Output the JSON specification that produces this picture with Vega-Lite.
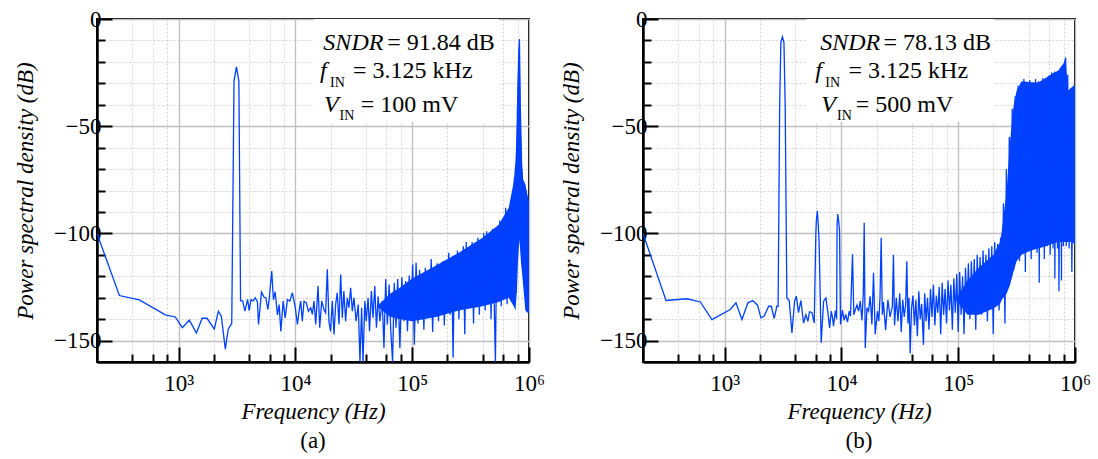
{
"$schema": "https://vega.github.io/schema/vega-lite/v6.json",
"background": "white",
"padding": {"left": 13, "top": 7, "right": 5, "bottom": 5},
"spacing": 114,
"bounds": "flush",
"config": {
 "view": {"stroke": "black", "strokeWidth": 2},
 "font": "Liberation Serif",
 "axis": {"labelFont": "Liberation Serif", "labelFontSize": 23, "labelColor": "black", "titleFont": "Liberation Serif", "titleFontSize": 23, "titleFontStyle": "italic", "titleFontWeight": "normal", "titleColor": "black", "domainColor": "black", "domainWidth": 2.5, "tickColor": "black", "tickWidth": 2, "labelFlush": false, "labelOverlap": false, "grid": true},
 "axisX": {"labelPadding": 25, "titlePadding": -2},
 "axisY": {"labelPadding": 11, "titlePadding": 16},
 "title": {"font": "Liberation Serif", "fontSize": 23, "fontWeight": "normal", "color": "black"}
},
"datasets": {
 "la": [{"f":200,"v":-100},{"f":311,"v":-129},{"f":461,"v":-131},{"f":770,"v":-138},{"f":936,"v":-139},{"f":1075,"v":-144},{"f":1234,"v":-140.5},{"f":1420,"v":-146.5},{"f":1590,"v":-139.6},{"f":1750,"v":-139.6},{"f":2020,"v":-144.7},{"f":2190,"v":-136.3},{"f":2320,"v":-138.6},{"f":2510,"v":-154},{"f":2660,"v":-144.7},{"f":2850,"v":-142},{"f":2980,"v":-29},{"f":3125,"v":-22.3},{"f":3280,"v":-29},{"f":3390,"v":-131.5},{"f":3530,"v":-131.5},{"f":3697,"v":-136.3},{"f":3895,"v":-130.8},{"f":4020,"v":-136},{"f":4160,"v":-131},{"f":4345,"v":-131.5},{"f":4530,"v":-130},{"f":4730,"v":-132},{"f":4830,"v":-142.5},{"f":5120,"v":-127.4},{"f":5400,"v":-129.8},{"f":5580,"v":-130},{"f":5810,"v":-135.5},{"f":5950,"v":-131},{"f":6270,"v":-117.6},{"f":6480,"v":-131},{"f":6700,"v":-127.3},{"f":7020,"v":-138},{"f":7260,"v":-133.2},{"f":7500,"v":-145.7},{"f":7850,"v":-131.6},{"f":8170,"v":-139.4},{"f":8540,"v":-130.9},{"f":8960,"v":-131.6},{"f":9420,"v":-127.7},{"f":9980,"v":-134.7},{"f":10400,"v":-142.5},{"f":10740,"v":-136.3},{"f":11100,"v":-131.6},{"f":11450,"v":-141},{"f":11850,"v":-131.6},{"f":12400,"v":-132.4},{"f":12920,"v":-136.3},{"f":13540,"v":-134.7},{"f":13960,"v":-137.8},{"f":14430,"v":-131.6},{"f":14920,"v":-142.5},{"f":15620,"v":-124.6},{"f":16140,"v":-144},{"f":16790,"v":-131.6},{"f":17550,"v":-135.5},{"f":18140,"v":-137},{"f":18750,"v":-116.8},{"f":19360,"v":-141},{"f":20000,"v":-145.7},{"f":20700,"v":-131.6},{"f":21400,"v":-147.2},{"f":22100,"v":-133.2},{"f":22800,"v":-127.7},{"f":23600,"v":-142.5},{"f":24400,"v":-119.2},{"f":25200,"v":-139.4},{"f":26000,"v":-126.9},{"f":26900,"v":-141},{"f":27800,"v":-130.1},{"f":28700,"v":-134.7},{"f":29700,"v":-125.4},{"f":30700,"v":-136.3},{"f":31700,"v":-130},{"f":33100,"v":-141},{"f":34500,"v":-133.2},{"f":35700,"v":-159.7},{"f":36900,"v":-134.7},{"f":37900,"v":-160},{"f":39300,"v":-131.6},{"f":40400,"v":-141},{"f":41900,"v":-130},{"f":43100,"v":-145.7},{"f":44700,"v":-126.9},{"f":46200,"v":-139.4},{"f":47800,"v":-124.6},{"f":49400,"v":-144},{"f":51100,"v":-129.3},{"f":52800,"v":-141},{"f":55400,"v":-131.6},{"f":57300,"v":-153.5},{"f":59300,"v":-121.3},{"f":61300,"v":-142.5},{"f":63400,"v":-123.9},{"f":65600,"v":-145.7},{"f":67900,"v":-160},{"f":70200,"v":-123},{"f":72600,"v":-144},{"f":75100,"v":-121.3},{"f":78400,"v":-153.5},{"f":81500,"v":-120.5},{"f":85100,"v":-141},{"f":88000,"v":-122.2},{"f":91100,"v":-145.7},{"f":94300,"v":-119.7},{"f":97500,"v":-139.4},{"f":100900,"v":-114.5},{"f":104300,"v":-152},{"f":107900,"v":-113.7},{"f":112200,"v":-142},{"f":115500,"v":-117},{"f":118900,"v":-138},{"f":122300,"v":-121},{"f":125900,"v":-145},{"f":129600,"v":-116},{"f":133400,"v":-139},{"f":137200,"v":-119},{"f":141300,"v":-136},{"f":145400,"v":-112},{"f":149600,"v":-146},{"f":154000,"v":-118},{"f":158500,"v":-137},{"f":163100,"v":-114},{"f":167900,"v":-141},{"f":172800,"v":-116},{"f":177800,"v":-133},{"f":183000,"v":-113},{"f":188400,"v":-143},{"f":193900,"v":-115},{"f":199500,"v":-135},{"f":205400,"v":-109},{"f":211300,"v":-138},{"f":217500,"v":-112},{"f":223900,"v":-158},{"f":230400,"v":-111},{"f":237100,"v":-134},{"f":244100,"v":-108},{"f":251200,"v":-140},{"f":258500,"v":-110},{"f":266100,"v":-132},{"f":273800,"v":-106},{"f":281800,"v":-147},{"f":290100,"v":-104},{"f":298500,"v":-135},{"f":307300,"v":-108},{"f":316200,"v":-131},{"f":325500,"v":-104},{"f":335000,"v":-142},{"f":344700,"v":-106},{"f":354800,"v":-130},{"f":365200,"v":-102},{"f":375800,"v":-138},{"f":386800,"v":-104},{"f":398100,"v":-129},{"f":409700,"v":-100},{"f":421700,"v":-136},{"f":434000,"v":-99},{"f":446700,"v":-131},{"f":459700,"v":-102},{"f":473200,"v":-140},{"f":487000,"v":-98},{"f":501200,"v":-127},{"f":515800,"v":-160},{"f":530900,"v":-97},{"f":546400,"v":-131},{"f":562300,"v":-94},{"f":578800,"v":-134},{"f":595700,"v":-95},{"f":613100,"v":-126},{"f":631000,"v":-88},{"f":649400,"v":-133},{"f":668300,"v":-90},{"f":687900,"v":-124},{"f":707900,"v":-85},{"f":728600,"v":-130},{"f":749900,"v":-74},{"f":771800,"v":-128},{"f":794300,"v":-45},{"f":817500,"v":-15},{"f":828000,"v":-9.3},{"f":841400,"v":-40},{"f":866000,"v":-70},{"f":891300,"v":-78},{"f":917300,"v":-120},{"f":944100,"v":-80},{"f":971600,"v":-135},{"f":1000000,"v":-136}],
 "ba": [{"f":50000,"v":-134,"v2":-134},{"f":65000,"v":-128,"v2":-139},{"f":80000,"v":-125,"v2":-140},{"f":100000,"v":-121,"v2":-141},{"f":160000,"v":-115,"v2":-139},{"f":250000,"v":-109,"v2":-136},{"f":400000,"v":-102,"v2":-134},{"f":550000,"v":-96,"v2":-132},{"f":670000,"v":-88,"v2":-130},{"f":740000,"v":-76,"v2":-134},{"f":766000,"v":-66,"v2":-136},{"f":790000,"v":-47.5,"v2":-126},{"f":805000,"v":-24,"v2":-113},{"f":828000,"v":-9.3,"v2":-103},{"f":843000,"v":-35,"v2":-109},{"f":855000,"v":-55,"v2":-114},{"f":871000,"v":-67.7,"v2":-118},{"f":890000,"v":-75,"v2":-124},{"f":931000,"v":-77,"v2":-136},{"f":970000,"v":-82,"v2":-137},{"f":1000000,"v":-85,"v2":-137}],
 "xa": [{"f":14450,"f2":550000,"v":0,"v2":-48}],
 "ta": [{"f":17350,"v":-14.49,"t":"SNDR","k":"sym"},{"f":61150,"v":-14.49,"t":"= 91.84 dB","k":"val"},{"f":16260,"v":-27.57,"t":"f","k":"sym"},{"f":19800,"v":-31.64,"t":"IN","k":"sub"},{"f":31130,"v":-27.57,"t":"= 3.125 kHz","k":"val"},{"f":17600,"v":-43.32,"t":"V","k":"sym"},{"f":23900,"v":-47.2,"t":"IN","k":"sub"},{"f":36220,"v":-43.32,"t":"= 100 mV","k":"val"}],
 "lb": [{"f":200,"v":-100},{"f":315,"v":-131.3},{"f":476,"v":-130.5},{"f":620,"v":-132},{"f":778,"v":-140.2},{"f":1118,"v":-135.5},{"f":1250,"v":-132.4},{"f":1407,"v":-140.2},{"f":1583,"v":-132.4},{"f":1735,"v":-131.3},{"f":1915,"v":-133.5},{"f":2043,"v":-139.4},{"f":2185,"v":-138.6},{"f":2380,"v":-134},{"f":2510,"v":-134},{"f":2660,"v":-139.7},{"f":2800,"v":-134},{"f":2870,"v":-134},{"f":2960,"v":-40},{"f":3030,"v":-11},{"f":3125,"v":-8.3},{"f":3220,"v":-11},{"f":3300,"v":-40},{"f":3410,"v":-130.1},{"f":3570,"v":-131.3},{"f":3770,"v":-146.4},{"f":3970,"v":-131.6},{"f":4110,"v":-129.3},{"f":4290,"v":-137},{"f":4500,"v":-131.3},{"f":4740,"v":-141.8},{"f":4960,"v":-138},{"f":5160,"v":-141},{"f":5330,"v":-136.6},{"f":5590,"v":-136.9},{"f":5850,"v":-141.8},{"f":6040,"v":-100},{"f":6100,"v":-94},{"f":6220,"v":-89.5},{"f":6330,"v":-96},{"f":6440,"v":-104},{"f":6710,"v":-151},{"f":7040,"v":-131.6},{"f":7370,"v":-130.1},{"f":7660,"v":-137},{"f":7920,"v":-144.1},{"f":8190,"v":-136.3},{"f":8400,"v":-139.4},{"f":8560,"v":-143.3},{"f":8870,"v":-136},{"f":9100,"v":-140},{"f":9180,"v":-96},{"f":9310,"v":-91},{"f":9460,"v":-94},{"f":9640,"v":-99},{"f":9820,"v":-142.5},{"f":10200,"v":-135.8},{"f":10540,"v":-140.6},{"f":10880,"v":-137.8},{"f":11270,"v":-141.4},{"f":11660,"v":-136.3},{"f":11960,"v":-138.6},{"f":12440,"v":-109.8},{"f":12770,"v":-138},{"f":13130,"v":-135.8},{"f":13580,"v":-133.4},{"f":14030,"v":-136.3},{"f":14500,"v":-131.6},{"f":14990,"v":-140.6},{"f":15400,"v":-128},{"f":15670,"v":-95},{"f":16000,"v":-153.5},{"f":16540,"v":-134.7},{"f":17070,"v":-136.3},{"f":17640,"v":-129.3},{"f":18230,"v":-142.5},{"f":18830,"v":-118.4},{"f":19460,"v":-147},{"f":20350,"v":-136.3},{"f":20900,"v":-141},{"f":21400,"v":-130},{"f":21900,"v":-102},{"f":22400,"v":-138},{"f":22900,"v":-132},{"f":23900,"v":-145},{"f":25000,"v":-131},{"f":26100,"v":-139},{"f":27300,"v":-134},{"f":27900,"v":-110},{"f":28500,"v":-143},{"f":29500,"v":-130},{"f":30500,"v":-141},{"f":31600,"v":-128},{"f":32500,"v":-146},{"f":33500,"v":-131},{"f":34500,"v":-139},{"f":35500,"v":-133},{"f":36300,"v":-113},{"f":37100,"v":-142},{"f":37900,"v":-130},{"f":38800,"v":-156},{"f":39800,"v":-135},{"f":41000,"v":-129},{"f":42200,"v":-143},{"f":43400,"v":-131},{"f":44700,"v":-148},{"f":46000,"v":-127},{"f":47300,"v":-140},{"f":48700,"v":-133},{"f":50400,"v":-152},{"f":51600,"v":-128},{"f":53100,"v":-141},{"f":54600,"v":-130},{"f":56200,"v":-145},{"f":57900,"v":-126},{"f":59600,"v":-139},{"f":61300,"v":-124},{"f":63100,"v":-143},{"f":64900,"v":-129},{"f":66800,"v":-137},{"f":68800,"v":-125},{"f":70800,"v":-147},{"f":72900,"v":-123},{"f":75000,"v":-138},{"f":77200,"v":-126},{"f":79400,"v":-142},{"f":81800,"v":-122},{"f":84100,"v":-136},{"f":86600,"v":-124},{"f":89100,"v":-145},{"f":91700,"v":-121},{"f":94400,"v":-137},{"f":97200,"v":-119},{"f":100000,"v":-146},{"f":102900,"v":-118},{"f":105900,"v":-138},{"f":109000,"v":-120},{"f":112200,"v":-147},{"f":115500,"v":-116},{"f":118900,"v":-135},{"f":122300,"v":-114},{"f":125900,"v":-140},{"f":129600,"v":-113},{"f":133400,"v":-134},{"f":137200,"v":-112},{"f":141300,"v":-145},{"f":145400,"v":-110},{"f":149600,"v":-132},{"f":154000,"v":-111},{"f":158500,"v":-138},{"f":163100,"v":-108},{"f":167900,"v":-130},{"f":172800,"v":-110},{"f":177800,"v":-141},{"f":183000,"v":-107},{"f":188400,"v":-133},{"f":193900,"v":-106},{"f":199500,"v":-147},{"f":205400,"v":-104},{"f":211300,"v":-131},{"f":217500,"v":-105},{"f":223900,"v":-136},{"f":230400,"v":-102},{"f":237100,"v":-128},{"f":244100,"v":-86},{"f":251200,"v":-142},{"f":258500,"v":-70},{"f":266100,"v":-121},{"f":273800,"v":-55},{"f":281800,"v":-121},{"f":290100,"v":-42},{"f":298500,"v":-117},{"f":307300,"v":-36},{"f":316200,"v":-112},{"f":325500,"v":-31},{"f":335000,"v":-113},{"f":344700,"v":-30},{"f":354800,"v":-108},{"f":365200,"v":-28},{"f":375800,"v":-118},{"f":386800,"v":-30},{"f":398100,"v":-108},{"f":409700,"v":-28.5},{"f":421700,"v":-112},{"f":434000,"v":-30},{"f":446700,"v":-106},{"f":459700,"v":-28},{"f":473200,"v":-109},{"f":487000,"v":-29},{"f":494000,"v":-123},{"f":501200,"v":-29.5},{"f":515800,"v":-106},{"f":530900,"v":-27.5},{"f":546400,"v":-112},{"f":562300,"v":-28},{"f":578800,"v":-106},{"f":595700,"v":-26.5},{"f":613100,"v":-110},{"f":631000,"v":-25},{"f":649400,"v":-107},{"f":668300,"v":-24.5},{"f":672000,"v":-121},{"f":687900,"v":-25},{"f":707900,"v":-107},{"f":720000,"v":-26},{"f":728600,"v":-127},{"f":749900,"v":-23},{"f":766000,"v":-122},{"f":771800,"v":-22},{"f":794300,"v":-106},{"f":817500,"v":-20},{"f":832000,"v":-18},{"f":841400,"v":-106},{"f":866000,"v":-26},{"f":891300,"v":-107},{"f":917300,"v":-33},{"f":940000,"v":-118},{"f":971600,"v":-31},{"f":1000000,"v":-104}],
 "bb": [{"f":95000,"v":-131,"v2":-131},{"f":120000,"v":-122,"v2":-138},{"f":150000,"v":-116,"v2":-138},{"f":200000,"v":-110,"v2":-135},{"f":228000,"v":-104,"v2":-133},{"f":236000,"v":-99,"v2":-131},{"f":260000,"v":-80,"v2":-128},{"f":278000,"v":-57,"v2":-124},{"f":297000,"v":-41,"v2":-118},{"f":316000,"v":-33.5,"v2":-113},{"f":349000,"v":-29,"v2":-110},{"f":420000,"v":-29.5,"v2":-108},{"f":485000,"v":-29.6,"v2":-107},{"f":560000,"v":-27.5,"v2":-106},{"f":630000,"v":-25.7,"v2":-105},{"f":720000,"v":-24,"v2":-104},{"f":790000,"v":-21,"v2":-104},{"f":820000,"v":-19.5,"v2":-104},{"f":832000,"v":-18.2,"v2":-104},{"f":845000,"v":-24,"v2":-104},{"f":870000,"v":-33.5,"v2":-104},{"f":930000,"v":-32,"v2":-104},{"f":1000000,"v":-31,"v2":-105}],
 "xb": [{"f":5020,"f2":204000,"v":0,"v2":-48}],
 "tb": [{"f":6585,"v":-14.49,"t":"SNDR","k":"sym"},{"f":22920,"v":-14.49,"t":"= 78.13 dB","k":"val"},{"f":5970,"v":-27.57,"t":"f","k":"sym"},{"f":7270,"v":-31.64,"t":"IN","k":"sub"},{"f":11500,"v":-27.57,"t":"= 3.125 kHz","k":"val"},{"f":6720,"v":-43.32,"t":"V","k":"sym"},{"f":9170,"v":-47.2,"t":"IN","k":"sub"},{"f":13280,"v":-43.32,"t":"= 500 mV","k":"val"}]
},
"hconcat": [
 {
  "width": 432, "height": 343,
  "title": {"text": "(a)", "orient": "bottom", "offset": 7},
  "encoding": {
   "x": {"field": "f", "type": "quantitative", "scale": {"type": "log", "domain": [200, 1000000], "nice": false},
    "axis": {"title": "Frequency (Hz)", "values": [400,600,800,1000,2000,4000,6000,8000,10000,20000,40000,60000,80000,100000,200000,400000,600000,800000,1000000],
     "labelExpr": "datum.value == 1000 ? '10³' : datum.value == 10000 ? '10⁴' : datum.value == 100000 ? '10⁵' : datum.value == 1000000 ? '10⁶' : ''",
     "tickSize": {"condition": {"test": "indexof([1000,10000,100000,1000000], datum.value) >= 0", "value": -15}, "value": -8},
     "gridDash": {"condition": {"test": "indexof([1000,10000,100000,1000000], datum.value) >= 0", "value": []}, "value": [2, 2]},
     "gridColor": {"condition": {"test": "indexof([1000,10000,100000,1000000], datum.value) >= 0", "value": "#c0c0c0"}, "value": "#d2d2d2"},
     "gridWidth": {"condition": {"test": "indexof([1000,10000,100000,1000000], datum.value) >= 0", "value": 1.4}, "value": 1}}},
   "y": {"field": "v", "type": "quantitative", "scale": {"domain": [-160, 0], "nice": false, "zero": false},
    "axis": {"title": "Power spectral density (dB)", "values": [0,-10,-20,-30,-40,-50,-60,-70,-80,-90,-100,-110,-120,-130,-140,-150],
     "labelExpr": "datum.value == 0 ? '0' : datum.value % 50 == 0 ? '−' + format(-datum.value, 'd') : ''",
     "tickSize": {"condition": {"test": "datum.value % 50 == 0", "value": -15}, "value": -8},
     "gridDash": {"condition": {"test": "datum.value % 50 == 0", "value": []}, "value": [2, 2]},
     "gridColor": {"condition": {"test": "datum.value % 50 == 0", "value": "#c0c0c0"}, "value": "#d2d2d2"},
     "gridWidth": {"condition": {"test": "datum.value % 50 == 0", "value": 1.4}, "value": 1}}}
  },
  "layer": [
   {"data": {"name": "xa"}, "mark": {"type": "rect", "fill": "white", "strokeWidth": 0}, "encoding": {"x2": {"field": "f2"}, "y2": {"field": "v2"}}},
   {"data": {"name": "ba"}, "mark": {"type": "area", "color": "#0040ff", "clip": true}, "encoding": {"y2": {"field": "v2"}}},
   {"data": {"name": "la"}, "mark": {"type": "line", "color": "#0040ff", "strokeWidth": 1.3, "clip": true}, "encoding": {}},
   {"data": {"name": "ta"}, "transform": [{"filter": "datum.k == 'sym'"}], "mark": {"type": "text", "align": "left", "baseline": "alphabetic", "fontStyle": "italic", "fontSize": 24, "color": "black"}, "encoding": {"text": {"field": "t"}}},
   {"data": {"name": "ta"}, "transform": [{"filter": "datum.k == 'val'"}], "mark": {"type": "text", "align": "left", "baseline": "alphabetic", "fontSize": 24, "color": "black"}, "encoding": {"text": {"field": "t"}}},
   {"data": {"name": "ta"}, "transform": [{"filter": "datum.k == 'sub'"}], "mark": {"type": "text", "align": "left", "baseline": "alphabetic", "fontSize": 14, "color": "black"}, "encoding": {"text": {"field": "t"}}}
  ]
 },
 {
  "width": 432, "height": 343,
  "title": {"text": "(b)", "orient": "bottom", "offset": 7},
  "encoding": {
   "x": {"field": "f", "type": "quantitative", "scale": {"type": "log", "domain": [200, 1000000], "nice": false},
    "axis": {"title": "Frequency (Hz)", "values": [400,600,800,1000,2000,4000,6000,8000,10000,20000,40000,60000,80000,100000,200000,400000,600000,800000,1000000],
     "labelExpr": "datum.value == 1000 ? '10³' : datum.value == 10000 ? '10⁴' : datum.value == 100000 ? '10⁵' : datum.value == 1000000 ? '10⁶' : ''",
     "tickSize": {"condition": {"test": "indexof([1000,10000,100000,1000000], datum.value) >= 0", "value": -15}, "value": -8},
     "gridDash": {"condition": {"test": "indexof([1000,10000,100000,1000000], datum.value) >= 0", "value": []}, "value": [2, 2]},
     "gridColor": {"condition": {"test": "indexof([1000,10000,100000,1000000], datum.value) >= 0", "value": "#c0c0c0"}, "value": "#d2d2d2"},
     "gridWidth": {"condition": {"test": "indexof([1000,10000,100000,1000000], datum.value) >= 0", "value": 1.4}, "value": 1}}},
   "y": {"field": "v", "type": "quantitative", "scale": {"domain": [-160, 0], "nice": false, "zero": false},
    "axis": {"title": "Power spectral density (dB)", "values": [0,-10,-20,-30,-40,-50,-60,-70,-80,-90,-100,-110,-120,-130,-140,-150],
     "labelExpr": "datum.value == 0 ? '0' : datum.value % 50 == 0 ? '−' + format(-datum.value, 'd') : ''",
     "tickSize": {"condition": {"test": "datum.value % 50 == 0", "value": -15}, "value": -8},
     "gridDash": {"condition": {"test": "datum.value % 50 == 0", "value": []}, "value": [2, 2]},
     "gridColor": {"condition": {"test": "datum.value % 50 == 0", "value": "#c0c0c0"}, "value": "#d2d2d2"},
     "gridWidth": {"condition": {"test": "datum.value % 50 == 0", "value": 1.4}, "value": 1}}}
  },
  "layer": [
   {"data": {"name": "xb"}, "mark": {"type": "rect", "fill": "white", "strokeWidth": 0}, "encoding": {"x2": {"field": "f2"}, "y2": {"field": "v2"}}},
   {"data": {"name": "bb"}, "mark": {"type": "area", "color": "#0040ff", "clip": true}, "encoding": {"y2": {"field": "v2"}}},
   {"data": {"name": "lb"}, "mark": {"type": "line", "color": "#0040ff", "strokeWidth": 1.3, "clip": true}, "encoding": {}},
   {"data": {"name": "tb"}, "transform": [{"filter": "datum.k == 'sym'"}], "mark": {"type": "text", "align": "left", "baseline": "alphabetic", "fontStyle": "italic", "fontSize": 24, "color": "black"}, "encoding": {"text": {"field": "t"}}},
   {"data": {"name": "tb"}, "transform": [{"filter": "datum.k == 'val'"}], "mark": {"type": "text", "align": "left", "baseline": "alphabetic", "fontSize": 24, "color": "black"}, "encoding": {"text": {"field": "t"}}},
   {"data": {"name": "tb"}, "transform": [{"filter": "datum.k == 'sub'"}], "mark": {"type": "text", "align": "left", "baseline": "alphabetic", "fontSize": 14, "color": "black"}, "encoding": {"text": {"field": "t"}}}
  ]
 }
]
}
